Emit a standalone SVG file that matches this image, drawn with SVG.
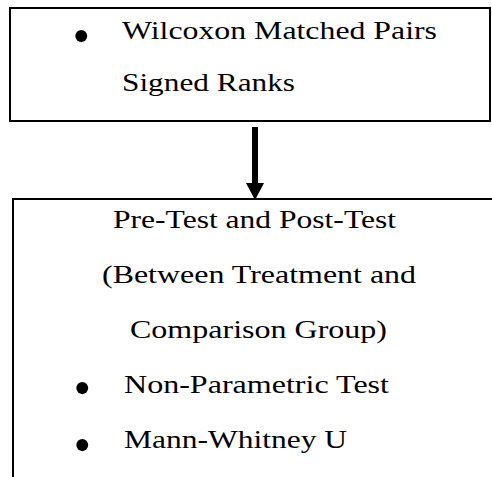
<svg xmlns="http://www.w3.org/2000/svg" width="492" height="477" viewBox="0 0 492 477">
<style>
.box{fill:none;stroke:#000;stroke-width:2}
text{fill:#000}
.t{font-size:26px}
.b{font-size:50px}
</style>
<rect width="492" height="477" fill="#fff"/>
<g font-family="Liberation Serif, Times New Roman, Times, serif">
<g id="node-wilcoxon">
<rect class="box" x="10" y="8" width="480" height="113"/>
<text class="b" x="72.5" y="52.5">•</text>
<text class="t" x="122" y="39" textLength="315" lengthAdjust="spacingAndGlyphs">Wilcoxon Matched Pairs</text>
<text class="t" x="122" y="91" textLength="173" lengthAdjust="spacingAndGlyphs">Signed Ranks</text>
</g>
<g id="node-pretest">
<polyline class="box" points="13,477 13,199 492,199"/>
<text class="t" x="113" y="228" textLength="283" lengthAdjust="spacingAndGlyphs">Pre-Test and Post-Test</text>
<text class="t" x="102" y="283" textLength="314" lengthAdjust="spacingAndGlyphs">(Between Treatment and</text>
<text class="t" x="130" y="338" textLength="257" lengthAdjust="spacingAndGlyphs">Comparison Group)</text>
<text class="b" x="73.5" y="404.5">•</text>
<text class="t" x="124" y="393" textLength="265" lengthAdjust="spacingAndGlyphs">Non-Parametric Test</text>
<text class="b" x="73.5" y="461.5">•</text>
<text class="t" x="124" y="448" textLength="223" lengthAdjust="spacingAndGlyphs">Mann-Whitney U</text>
</g>
</g>
<g id="connectors">
<line x1="255" y1="127" x2="255" y2="184" stroke="#000" stroke-width="6"/>
<polygon points="246,183 264,183 255,200" fill="#000"/>
</g>
</svg>
